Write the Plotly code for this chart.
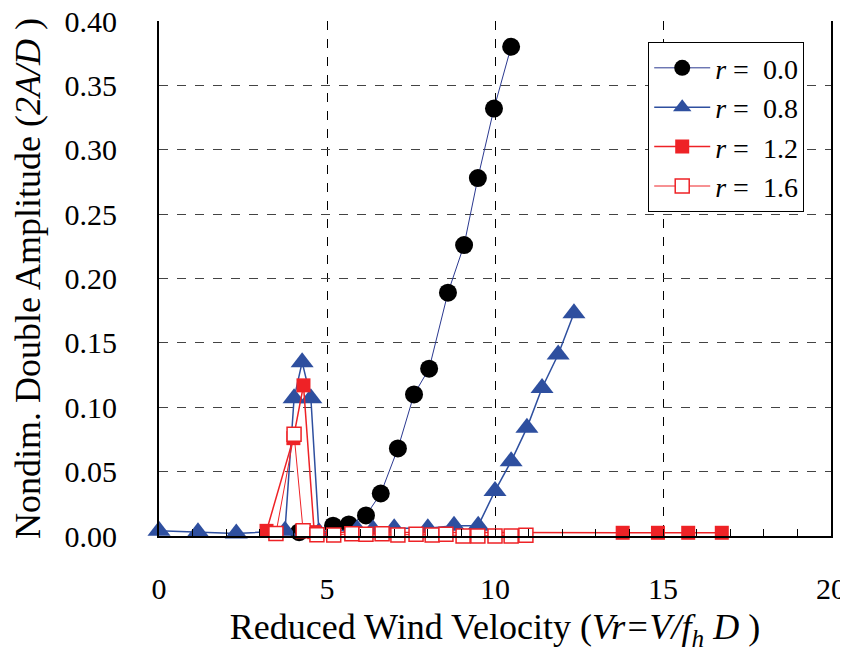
import plotly.graph_objects as go

# r = 0.0
x_r00 = [4.17, 5.18, 5.65, 6.16, 6.6, 7.11, 7.59, 8.04, 8.6, 9.08, 9.49, 9.97, 10.48]
y_r00 = [0.003, 0.008, 0.009, 0.016, 0.033, 0.068, 0.110, 0.130, 0.189, 0.226, 0.278, 0.332, 0.380]
# r = 0.8
x_r08 = [0.0, 1.16, 2.3, 3.75, 4.02, 4.26, 4.52, 4.76, 5.9, 6.37, 7.0, 8.0, 8.78, 9.5, 10.0, 10.48, 10.95, 11.4, 11.88, 12.35]
y_r08 = [0.004, 0.003, 0.002, 0.004, 0.107, 0.135, 0.107, 0.003, 0.005, 0.005, 0.006, 0.006, 0.008, 0.008, 0.035, 0.058, 0.084, 0.115, 0.141, 0.173]
# r = 1.2
x_r12 = [3.2, 4.0, 4.3, 4.62, 13.8, 14.85, 15.75, 16.75]
y_r12 = [0.004, 0.076, 0.117, 0.003, 0.0025, 0.0025, 0.0025, 0.0025]
# r = 1.6
x_r16 = [3.48, 4.02, 4.29, 4.7, 5.2, 5.74, 6.16, 6.64, 7.11, 7.65, 8.13, 8.54, 9.05, 9.49, 10.0, 10.48, 10.92]
y_r16 = [0.002, 0.079, 0.004, 0.001, 0.0008, 0.0018, 0.0013, 0.0018, 0.0008, 0.0013, 0.0008, 0.0013, 0.0, 0.0, 0.0, 0.0, 0.0005]

NB = "\u00a0"
labels = [f"<i>r</i>{NB}={NB}{NB}{v}" for v in ["0.0", "0.8", "1.2", "1.6"]]

FONT = "Liberation Serif, DejaVu Serif, serif"
BLUE = "#2E4F9F"
NAVY = "#2B3990"
RED = "#EE2226"

fig = go.Figure()
fig.add_trace(go.Scatter(x=x_r00, y=y_r00, mode="lines+markers", name=labels[0],
                         line=dict(color=NAVY, width=1),
                         marker=dict(symbol="circle", size=18, color="black"), cliponaxis=False))
fig.add_trace(go.Scatter(x=x_r08, y=y_r08, mode="lines+markers", name=labels[1],
                         line=dict(color=BLUE, width=1.5),
                         marker=dict(symbol="triangle-up", size=20, color=BLUE), cliponaxis=False))
fig.add_trace(go.Scatter(x=x_r12, y=y_r12, mode="lines+markers", name=labels[2],
                         line=dict(color=RED, width=1.5),
                         marker=dict(symbol="square", size=14, color=RED), cliponaxis=False))
fig.add_trace(go.Scatter(x=x_r16, y=y_r16, mode="lines+markers", name=labels[3],
                         line=dict(color=RED, width=1),
                         marker=dict(symbol="square", size=14, color="white",
                                     line=dict(color=RED, width=1.5)), cliponaxis=False))

# the page body adds an 8px offset, so the figure is drawn 8px smaller
fig.update_layout(
    width=840, height=644,
    margin=dict(l=151, r=17, t=13, b=116),
    paper_bgcolor="white", plot_bgcolor="white",
    font=dict(family=FONT, size=30, color="black"),
    showlegend=True,
    legend=dict(x=0.728, y=0.959, xanchor="left", yanchor="top",
                bgcolor="white", bordercolor="black", borderwidth=1,
                font=dict(family=FONT, size=28), traceorder="normal",
                itemwidth=56, tracegroupgap=0),
)
fig.update_xaxes(
    range=[0, 20], tickvals=[0, 5, 10, 15, 20], ticktext=["0", "5", "10", "15", "20"],
    showgrid=True, gridcolor="black", griddash="dash", gridwidth=1,
    showline=True, linecolor="black", linewidth=2, mirror=False,
    ticks="inside", ticklen=7, tickcolor="black",
    minor=dict(dtick=1, tick0=0, ticks="inside", ticklen=7, tickcolor="black", showgrid=False),
    ticklabelstandoff=25, ticklabeloverflow="allow", zeroline=False, automargin=False,
    title=dict(text="Reduced Wind Velocity (<i>Vr=V/f<sub>h</sub> D</i> )", standoff=15),
)
fig.update_yaxes(
    range=[0, 0.40], tickvals=[0, 0.05, 0.10, 0.15, 0.20, 0.25, 0.30, 0.35, 0.40],
    ticktext=["0.00", "0.05", "0.10", "0.15", "0.20", "0.25", "0.30", "0.35", "0.40"],
    showgrid=True, gridcolor="#444444", griddash="dash", gridwidth=1,
    showline=True, linecolor="black", linewidth=2, mirror=True,
    ticks="", ticklabelstandoff=34, ticklabeloverflow="allow", zeroline=False, automargin=False,
    title=dict(text="Nondim. Double Amplitude (<i>2A/D</i> )", standoff=14),
)
fig.write_html("out.html")
